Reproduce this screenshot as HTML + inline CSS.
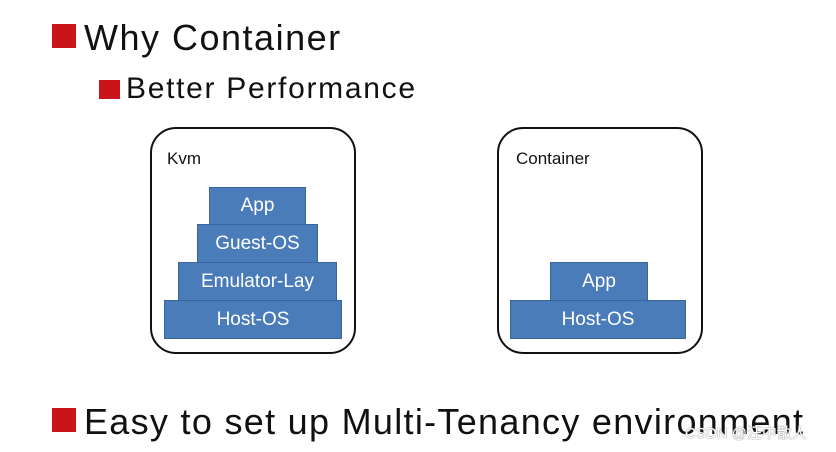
<!DOCTYPE html>
<html><head><meta charset="utf-8"><style>
body{margin:0;width:836px;height:452px;background:#fff;position:relative;overflow:hidden;font-family:"Liberation Sans","Noto Sans CJK SC",sans-serif;}
.sq{position:absolute;background:#c8141a}
.t{position:absolute;color:#111;white-space:nowrap;line-height:1}
.box{position:absolute;border:2.5px solid #111;border-radius:26px;box-sizing:border-box}
.b{position:absolute;background:#4a7cba;border:1.5px solid #3a659b;box-sizing:border-box;color:#fff;font-size:19px;text-align:center;display:flex;align-items:center;justify-content:center}
</style></head><body>
<div class="sq" style="left:52px;top:24px;width:24px;height:24px"></div>
<div class="t" style="left:84px;top:20px;font-size:36px;letter-spacing:1.5px">Why Container</div>
<div class="sq" style="left:99px;top:80px;width:21px;height:19px"></div>
<div class="t" style="left:126px;top:74px;font-size:30px;letter-spacing:1.7px">Better Performance</div>

<div class="box" style="left:150px;top:127px;width:206px;height:227px"></div>
<div class="t" style="left:167px;top:150px;font-size:17px">Kvm</div>
<div class="b" style="left:209px;top:187px;width:97px;height:38px">App</div>
<div class="b" style="left:197px;top:224px;width:121px;height:39px">Guest-OS</div>
<div class="b" style="left:178px;top:262px;width:159px;height:39px">Emulator-Lay</div>
<div class="b" style="left:164px;top:300px;width:178px;height:39px">Host-OS</div>

<div class="box" style="left:497px;top:127px;width:206px;height:227px"></div>
<div class="t" style="left:516px;top:150px;font-size:17px">Container</div>
<div class="b" style="left:550px;top:262px;width:98px;height:39px">App</div>
<div class="b" style="left:510px;top:300px;width:176px;height:39px">Host-OS</div>

<div class="sq" style="left:52px;top:408px;width:24px;height:24px"></div>
<div class="t" style="left:84px;top:404px;font-size:36px;letter-spacing:1.3px">Easy to set up Multi-Tenancy environment</div>
<div class="t" style="left:685px;top:426px;font-size:15px;color:#fff;text-shadow:0 0 1px #888,0 0 1px #888">CSDN @汪中散人</div>
</body></html>
